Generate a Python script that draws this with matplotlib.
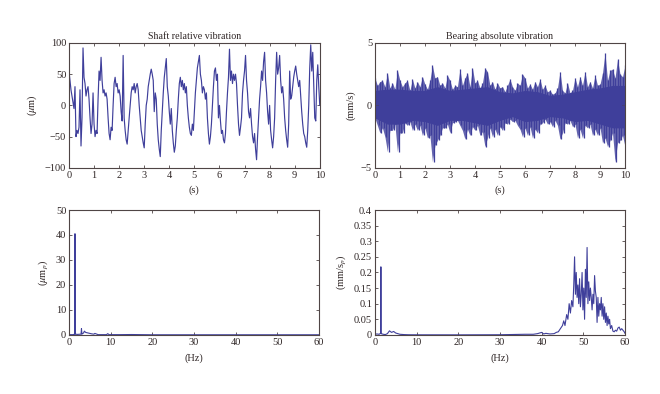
import numpy as np
import matplotlib
matplotlib.use("Agg")
import matplotlib.pyplot as plt
from matplotlib.ticker import FuncFormatter

plt.rcParams['font.family'] = ['Liberation Serif', 'DejaVu Serif']
plt.rcParams['mathtext.fontset'] = 'stix'
plt.rcParams['font.size'] = 7.5

# shaft relative vibration, one value every 0.04 s (um)
shaft = [55, 40, 25, 15, 5, -5, 30, -50, -40, -45, -35, 25, -65, -20, 92, 45,
         35, 15, 25, 30, 10, -20, -45, -30, 20, -30, -50, -40, -45, 10, 55, 40,
         77, 40, 20, 25, 15, 20, 10, -20, -45, -55, -35, -40, 0, 35, 45, 30,
         35, 20, 25, 15, -10, -25, 80, -20, -40, -55, -62, -40, -20, 0, 20, 30,
         25, 35, 20, 30, 35, 25, 0, -20, -40, -50, -60, -68, -30, 0, 10, 30,
         40, 50, 58, 50, 40, -10, 20, 10, -30, -55, -70, -82, -40, -10, 20, 45,
         60, 75, 30, 15, -10, -30, -5, -40, -60, -75, -65, -40, -20, 10, 35, 45,
         30, 40, 25, 35, 20, 30, 0, -20, -35, -45, -48, -30, -40, -10, 20, 40,
         60, 70, 80, 50, 40, 20, 30, 25, 10, 20, -20, -45, -62, -50, -30, 0,
         30, 55, 60, 40, 50, -20, 0, -25, -45, -40, -55, -60, -45, -10, 20, 45,
         90, 40, 55, 35, 50, 40, 50, 35, 0, -30, -48, -35, -20, 20, 40, 55,
         80, 40, 20, -10, -20, -5, -30, -50, -60, -45, -70, -87, -50, -20, 10, 30,
         55, 40, 70, 85, 40, 20, -10, -30, 0, -40, -55, -68, -50, -20, 40, 85,
         50, 60, 80, 40, 20, 30, 10, -20, -40, -55, -67, -30, 55, 10, 15, 30,
         45, 55, 63, 50, 40, 30, 40, 15, -10, -30, -45, -50, -60, -67, -40, 0,
         60, 97, 55, 85, 30, -20, -25, 40, 65, 30, 0]

# bearing absolute vibration, peak values every 0.1 s (mm/s)
bearing_up = [2.2, 1.6, 1.9, 2.0, 1.5, 2.6, 1.4, 1.8, 1.3, 2.8, 2.0, 1.5, 1.8, 2.0, 1.2, 2.1,
              1.4, 1.9, 1.5, 2.3, 1.7, 1.3, 2.0, 3.2, 2.2, 2.3, 1.6, 1.8, 1.4, 2.4, 2.0, 1.3,
              1.6, 1.5, 2.9, 1.6, 2.2, 2.6, 1.5, 3.0, 1.8, 2.0, 1.4, 1.8, 3.0, 2.7, 1.6, 1.9,
              1.3, 1.8, 1.4, 1.5, 1.1, 1.6, 2.1, 1.5, 1.2, 1.8, 1.6, 2.5, 2.2, 1.4, 1.7, 1.3,
              1.9, 1.5, 2.1, 1.3, 1.6, 1.1, 1.2, 0.9, 1.0, 1.4, 2.7, 1.2, 1.0, 1.8, 1.0, 1.2,
              2.2, 1.5, 2.3, 1.6, 2.7, 1.5, 1.9, 1.4, 2.4, 1.6, 1.7, 2.6, 4.2, 2.0, 2.8, 2.9,
              2.2, 3.7, 2.5, 2.3, 3.2]
bearing_lo = [-1.0, -1.6, -2.2, -1.8, -2.5, -3.7, -2.0, -2.0, -1.5, -3.7, -2.2, -2.2, -1.4, -1.6,
              -1.3, -2.0, -1.5, -2.0, -1.6, -2.4, -1.8, -2.6, -2.4, -4.5, -3.2, -2.8, -2.4, -1.8,
              -1.8, -1.5, -2.2, -1.4, -1.3, -1.2, -1.6, -2.0, -2.7, -1.9, -2.4, -1.7, -2.0, -1.6,
              -2.4, -2.1, -3.3, -2.6, -1.8, -2.5, -1.9, -2.4, -1.7, -2.0, -1.4, -1.5, -1.1, -1.3,
              -1.2, -1.6, -1.9, -2.5, -1.8, -2.4, -1.7, -2.6, -1.9, -2.2, -1.5, -1.4, -1.1, -1.5,
              -1.3, -1.7, -1.2, -1.6, -2.7, -2.2, -1.4, -1.5, -1.2, -1.7, -1.5, -2.6, -1.9, -2.6,
              -1.6, -1.8, -1.5, -2.4, -1.9, -2.4, -1.8, -3.0, -2.6, -3.3, -2.8, -2.2, -4.5, -3.0,
              -2.8, -2.4, -3.3]
# dense core of the bearing signal, every 0.5 s (mm/s)
core_up = [1.2, 1.3, 1.3, 1.2, 1.2, 1.5, 1.2, 1.3, 1.4, 1.5, 1.1, 1.0, 1.2, 1.1, 0.8, 0.9,
           1.1, 1.3, 1.4, 1.6, 1.6]
core_lo = [-1.0, -1.5, -1.5, -1.2, -1.3, -1.6, -1.2, -1.2, -1.4, -1.6, -1.2, -0.9, -1.3, -1.2,
           -0.9, -1.0, -1.3, -1.2, -1.5, -1.8, -1.8]

# spectra
f_shaft = [0, 1.0, 1.38, 1.44, 1.5, 2.0, 2.9, 3.0, 3.1, 3.5, 3.7, 4.0, 4.5, 5.0, 5.5, 6.0,
           6.2, 7.0, 9.0, 9.3, 9.6, 12, 15, 20, 30, 40, 50, 60]
a_shaft = [0.1, 0.1, 0.3, 40.5, 0.3, 0.2, 0.3, 2.5, 0.3, 0.8, 1.5, 1.0, 0.8, 0.6, 0.4, 0.3,
           0.6, 0.1, 0.1, 0.5, 0.1, 0.1, 0.15, 0.05, 0.05, 0.05, 0.05, 0.05]

f_bear = [0, 0.5, 1.0, 1.38, 1.44, 1.5, 2.0, 2.5, 3.0, 3.5, 4.0, 4.5, 5.0, 5.5, 6.0, 7.0, 8.0,
          10, 20, 30, 36, 38, 39, 40, 40.5, 41, 42, 43, 43.5, 44, 44.5, 45, 45.3, 45.6, 46,
          46.3, 46.6, 46.9, 47.2, 47.5, 47.7, 47.9, 48.1, 48.3, 48.5, 48.7, 48.9, 49.1, 49.3,
          49.5, 49.7, 49.9, 50.1, 50.3, 50.5, 50.7, 50.9, 51.1, 51.3, 51.5, 51.7, 51.9, 52.1,
          52.3, 52.5, 52.7, 52.9, 53.1, 53.3, 53.5, 53.7, 53.9, 54.1, 54.3, 54.5, 54.7, 54.9,
          55.1, 55.3, 55.5, 55.7, 55.9, 56.1, 56.3, 56.5, 56.8, 57.1, 57.4, 57.7, 58.0, 58.3,
          58.6, 58.9, 59.2, 59.5, 59.8, 60]
a_bear = [0.002, 0.003, 0.002, 0.005, 0.218, 0.004, 0.002, 0.001, 0.004, 0.013, 0.008, 0.011,
          0.006, 0.004, 0.002, 0.001, 0.0005, 0.0003, 0.0002, 0.0005, 0.002, 0.002, 0.004,
          0.008, 0.003, 0.005, 0.003, 0.004, 0.008, 0.01, 0.02, 0.03, 0.045, 0.03, 0.065, 0.05,
          0.10, 0.07, 0.11, 0.09, 0.16, 0.25, 0.13, 0.2, 0.12, 0.16, 0.1, 0.18, 0.09, 0.13, 0.2,
          0.08, 0.15, 0.05, 0.21, 0.12, 0.28, 0.1, 0.17, 0.11, 0.15, 0.12, 0.08, 0.13, 0.1, 0.19,
          0.14, 0.12, 0.04, 0.12, 0.06, 0.1, 0.08, 0.12, 0.06, 0.1, 0.05, 0.09, 0.04, 0.07, 0.03,
          0.06, 0.035, 0.05, 0.02, 0.03, 0.012, 0.01, 0.015, 0.012, 0.022, 0.025, 0.015, 0.02,
          0.015, 0.01, 0.005]

line_c = '#3f3f9b'
frame_c = '#4f4545'
text_c = '#2e2525'


def style(ax):
    for s in ax.spines.values():
        s.set_color(frame_c)
        s.set_linewidth(0.8)
    ax.tick_params(direction='in', top=True, right=True, length=2.5, width=0.6,
                   colors=frame_c, labelcolor=text_c, labelsize=7.5, pad=2)


fig = plt.figure(figsize=(6.6, 3.94), dpi=100)
ax1 = fig.add_axes([0.1045, 0.574, 0.380, 0.317])
ax2 = fig.add_axes([0.568, 0.574, 0.379, 0.317])
ax3 = fig.add_axes([0.1045, 0.150, 0.379, 0.317])
ax4 = fig.add_axes([0.568, 0.150, 0.379, 0.317])

t1 = np.linspace(0, 10, len(shaft))
ax1.plot(t1, shaft, color=line_c, lw=0.85)
ax1.set_xlim(0, 10)
ax1.set_ylim(-100, 100)
ax1.set_xticks(range(0, 11))
ax1.set_yticks([-100, -50, 0, 50, 100])
ax1.set_title('Shaft relative vibration', fontsize=7.2, color=text_c, pad=3)
ax1.set_xlabel('(s)', color=text_c, labelpad=4)
ax1.set_ylabel(r'($\mu$m)', color=text_c, labelpad=4)

t2 = np.linspace(0, 10, len(bearing_up))
tc = np.linspace(0, 10, len(core_up))
ax2.fill_between(t2, bearing_lo, bearing_up, color=line_c, lw=0, alpha=0.8)
ax2.fill_between(tc, core_lo, core_up, color=line_c, lw=0)
ax2.vlines(t2, 0, bearing_up, color=line_c, lw=0.9)
ax2.vlines(t2 + 0.05, bearing_lo, 0, color=line_c, lw=0.9)
ax2.set_xlim(0, 10)
ax2.set_ylim(-5, 5)
ax2.set_xticks(range(0, 11))
ax2.set_yticks([-5, 0, 5])
ax2.set_title('Bearing absolute vibration', fontsize=7.2, color=text_c, pad=3)
ax2.set_xlabel('(s)', color=text_c, labelpad=4)
ax2.set_ylabel('(mm/s)', color=text_c, labelpad=4)

ax3.plot(f_shaft, a_shaft, color=line_c, lw=0.8)
ax3.set_xlim(0, 60)
ax3.set_ylim(0, 50)
ax3.set_xticks(range(0, 61, 10))
ax3.set_yticks(range(0, 51, 10))
ax3.set_xlabel('(Hz)', color=text_c, labelpad=5)
ax3.set_ylabel(r'($\mu$m$_p$)', color=text_c, labelpad=4)

ax4.plot(f_bear, a_bear, color=line_c, lw=0.8)
ax4.set_xlim(0, 60)
ax4.set_ylim(0, 0.4)
ax4.set_xticks(range(0, 61, 10))
ax4.set_yticks(np.arange(0, 0.41, 0.05))
ax4.yaxis.set_major_formatter(FuncFormatter(lambda v, p: '%g' % round(v, 2)))
ax4.set_xlabel('(Hz)', color=text_c, labelpad=5)
ax4.set_ylabel(r'(mm/s$_p$)', color=text_c, labelpad=4)

for ax in (ax1, ax2, ax3, ax4):
    style(ax)

fig.savefig('out.png', dpi=100)
